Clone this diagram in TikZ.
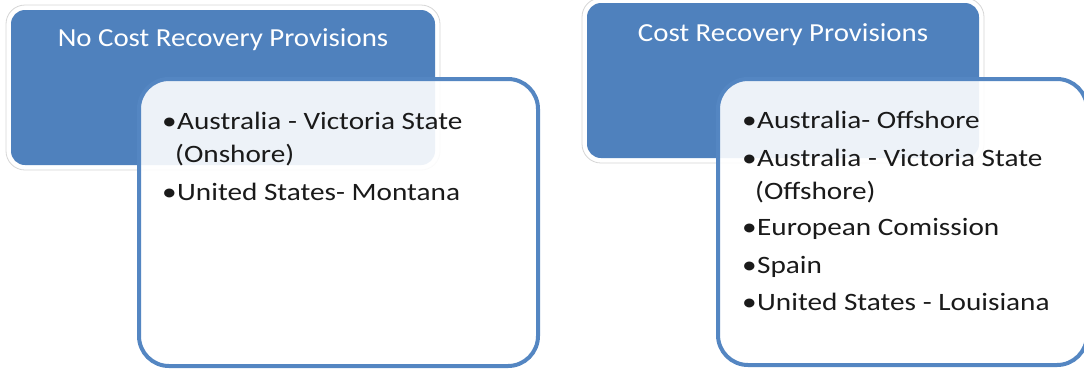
\documentclass[tikz,border=0pt]{standalone}
\usepackage{fontspec}
\setmainfont{Carlito}
\newfontfamily\titlefont[FakeStretch=1.11]{Carlito}
\newfontfamily\itemfont[FakeStretch=1.17]{Carlito}
\definecolor{hdblue}{RGB}{79,129,189}
\definecolor{bdblue}{RGB}{84,134,194}
\definecolor{txtcol}{RGB}{26,26,26}
\begin{document}
\begin{tikzpicture}[x=1pt,y=-1pt,
  halo/.style={draw=black!16, line width=0.8pt, fill=white, rounded corners=19pt, inner sep=0pt},
  headbox/.style={fill=hdblue, draw=none, rounded corners=14pt, inner sep=0pt},
  listbox/.style={draw=bdblue, line width=4pt, fill=white, fill opacity=0.9, rounded corners=30pt, inner sep=0pt},
  headtitle/.style={text=white, font=\titlefont\fontsize{26}{31}\selectfont, inner sep=0pt, anchor=base},
  listitem/.style={text=txtcol, font=\itemfont\fontsize{25}{33}\selectfont, inner sep=0pt, anchor=base west, align=left},
]
\useasboundingbox (0,0) rectangle (1084,368);
\clip (0,0) rectangle (1084,368);

% left group
\node[halo, minimum width=434, minimum height=165] (lhalo) at (223,87.5) {};
\node[headbox, minimum width=424, minimum height=155] (lhead) at (223,87.5) {};
\node[headtitle] (ltitle) at (223,46.5) {No Cost Recovery Provisions};
\node[listbox, minimum width=399, minimum height=287] (llist) at (338.5,222.5) {};
% two-line node: base anchor sits on the last line
\node[listitem] (l1) at (177,162) {\llap{•\hspace{0.5pt}}Australia - Victoria State\\\hspace*{-2pt}(Onshore)};
\node[listitem] (l2) at (177,200) {\llap{•\hspace{0.5pt}}United States- Montana};

% right group
\node[halo, minimum width=402, minimum height=165] (rhalo) at (783,80.5) {};
\node[headbox, minimum width=392, minimum height=155] (rhead) at (783,80.5) {};
\node[headtitle] (rtitle) at (783,41.5) {Cost Recovery Provisions};
\node[listbox, minimum width=369, minimum height=286] (rlist) at (902.5,222) {};
\node[listitem] (r1) at (757,128) {\llap{•\hspace{0.5pt}}Australia- Offshore};
\node[listitem] (r2) at (757,199) {\llap{•\hspace{0.5pt}}Australia - Victoria State\\\hspace*{-2pt}(Offshore)};
\node[listitem] (r3) at (757,235) {\llap{•\hspace{0.5pt}}European Comission};
\node[listitem] (r4) at (757,273) {\llap{•\hspace{0.5pt}}Spain};
\node[listitem] (r5) at (757,310) {\llap{•\hspace{0.5pt}}United States - Louisiana};
\end{tikzpicture}
\end{document}
